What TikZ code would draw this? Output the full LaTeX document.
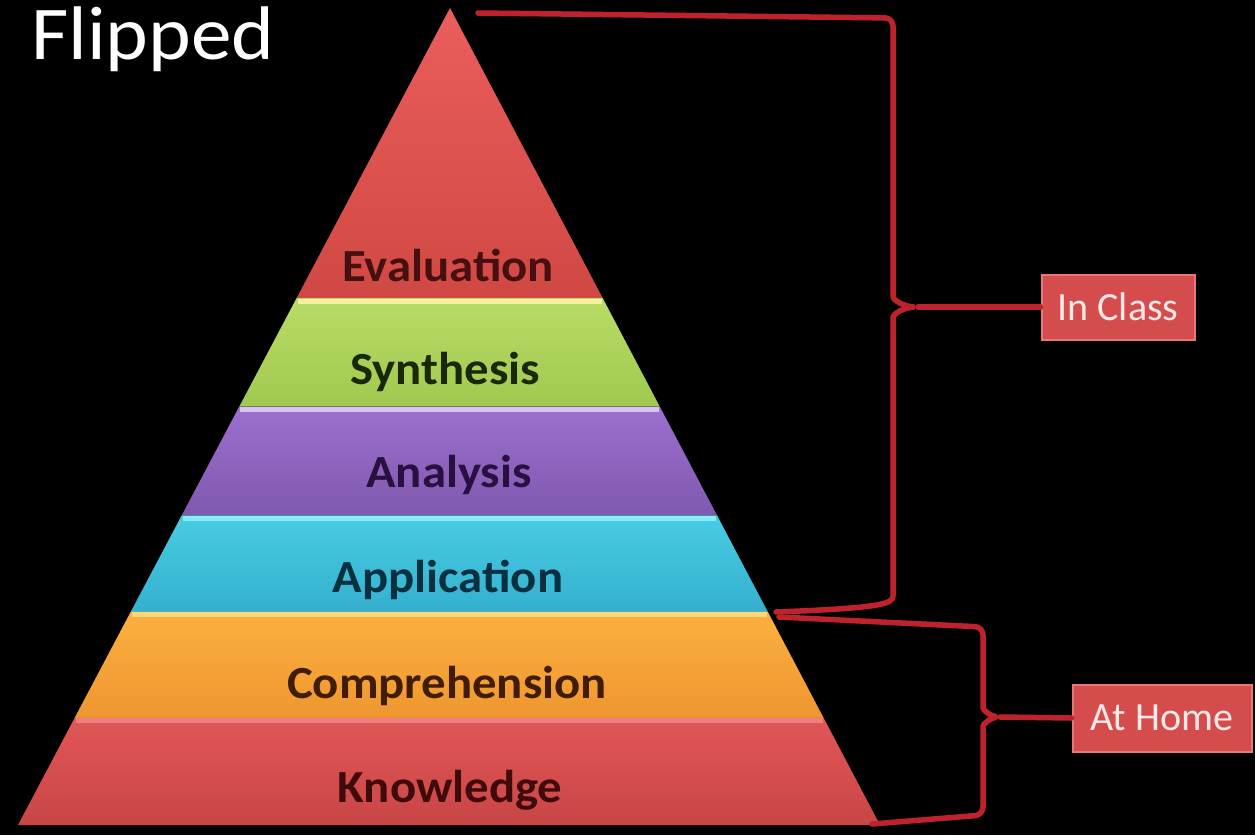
\documentclass[tikz,border=0pt]{standalone}
\usepackage{fontspec}
\setmainfont{Carlito}
\usetikzlibrary{calc}

% --- Colours ---
\definecolor{evaltop}{RGB}{234,94,92}
\definecolor{evalbot}{RGB}{208,72,68}
\definecolor{syntop}{RGB}{186,220,104}
\definecolor{synbot}{RGB}{160,200,78}
\definecolor{anatop}{RGB}{156,112,206}
\definecolor{anabot}{RGB}{128,88,174}
\definecolor{apptop}{RGB}{72,204,228}
\definecolor{appbot}{RGB}{52,176,206}
\definecolor{comptop}{RGB}{252,176,64}
\definecolor{compbot}{RGB}{238,150,48}
\definecolor{knowtop}{RGB}{226,86,86}
\definecolor{knowbot}{RGB}{200,70,70}
% seams and label inks
\definecolor{synseam}{RGB}{244,240,160}
\definecolor{anaseam}{RGB}{214,196,240}
\definecolor{appseam}{RGB}{136,236,248}
\definecolor{compseam}{RGB}{255,214,120}
\definecolor{knowseam}{RGB}{240,128,128}
\definecolor{evalink}{RGB}{70,16,16}
\definecolor{synink}{RGB}{24,40,8}
\definecolor{anaink}{RGB}{40,16,64}
\definecolor{appink}{RGB}{8,48,64}
\definecolor{compink}{RGB}{64,28,0}
\definecolor{knowink}{RGB}{64,10,10}
% braces and tags
\definecolor{bracered}{RGB}{190,34,44}
\definecolor{tagred}{RGB}{212,76,76}
\definecolor{tagedge}{RGB}{232,120,120}
\definecolor{tagink}{RGB}{255,232,232}

\newcommand\layerfont{\fontsize{46}{50}\selectfont\bfseries}

\tikzset{
  layertext/.style={font=\layerfont, inner sep=0pt, xscale=1.06},
  brace/.style={draw=bracered, line width=5.5pt, line join=round, line cap=round},
  tag/.style={draw=tagedge, line width=2pt, fill=tagred, text=tagink,
    font=\fontsize{40}{44}\selectfont, inner sep=0pt},
  seam/.style={line width=5pt}
}

\begin{document}
\begin{tikzpicture}[x=1pt,y=-1pt]

    % --- Background ---
    \fill[black] (0,0) rectangle (1255,835);
    \useasboundingbox (0,0) rectangle (1255,835);

    % --- Coordinates ---
    % apex and the two base corners of the pyramid
    \coordinate (apex) at (450,8);
    \coordinate (bl) at (18,825);
    \coordinate (br) at (880,825);
    % layer boundaries along the two slanted sides
    \coordinate (l1) at ($(apex)!0.355!(bl)$);
    \coordinate (r1) at ($(apex)!0.355!(br)$);
    \coordinate (l2) at ($(apex)!0.488!(bl)$);
    \coordinate (r2) at ($(apex)!0.488!(br)$);
    \coordinate (l3) at ($(apex)!0.621!(bl)$);
    \coordinate (r3) at ($(apex)!0.621!(br)$);
    \coordinate (l4) at ($(apex)!0.739!(bl)$);
    \coordinate (r4) at ($(apex)!0.739!(br)$);
    \coordinate (l5) at ($(apex)!0.869!(bl)$);
    \coordinate (r5) at ($(apex)!0.869!(br)$);

    % --- Layers ---
    \shade[top color=evaltop, bottom color=evalbot] (apex) -- (r1) -- (l1) -- cycle;
    \shade[top color=syntop, bottom color=synbot] (l1) -- (r1) -- (r2) -- (l2) -- cycle;
    \shade[top color=anatop, bottom color=anabot] (l2) -- (r2) -- (r3) -- (l3) -- cycle;
    \shade[top color=apptop, bottom color=appbot] (l3) -- (r3) -- (r4) -- (l4) -- cycle;
    \shade[top color=comptop, bottom color=compbot] (l4) -- (r4) -- (r5) -- (l5) -- cycle;
    \shade[top color=knowtop, bottom color=knowbot] (l5) -- (r5) -- (br) -- (bl) -- cycle;

    % light seams on top of each layer
    \draw[seam, synseam] ($(l1)+(1,3)$) -- ($(r1)+(-1,3)$);
    \draw[seam, anaseam] ($(l2)+(1,3)$) -- ($(r2)+(-1,3)$);
    \draw[seam, appseam] ($(l3)+(1,3)$) -- ($(r3)+(-1,3)$);
    \draw[seam, compseam] ($(l4)+(1,3)$) -- ($(r4)+(-1,3)$);
    \draw[seam, knowseam] ($(l5)+(1,3)$) -- ($(r5)+(-1,3)$);

    % --- Layer labels ---
    \node[layertext, text=evalink] (eval) at (448,265) {Evaluation};
    \node[layertext, text=synink] (synth) at (445,372) {Synthesis};
    \node[layertext, text=anaink] (anal) at (449,475) {Analysis};
    \node[layertext, text=appink] (appl) at (448,580) {Application};
    \node[layertext, text=compink] (compr) at (447,686) {Comprehension};
    \node[layertext, text=knowink] (knowl) at (450,790) {Knowledge};

    % --- Title ---
    \node[anchor=base west, text=white, font=\fontsize{76}{84}\selectfont, inner sep=0pt, xscale=1.07]
      (title) at (31,59) {Flipped};

    % --- Tags ---
    \node[tag, minimum width=153pt, minimum height=65pt] (inclass) at (1118,307) {In Class};
    \node[tag, minimum width=179pt, minimum height=67pt] (athome) at (1162,718) {At Home};

    % --- Braces ---
    % upper brace: from the apex down to the top of Comprehension
    \coordinate (classtop) at (478,13);
    \coordinate (classtip) at (918,307);
    \coordinate (classend) at (776,612);
    \draw[brace, rounded corners=8pt] (classtop) -- (893,18) -- (893,288)
      .. controls (893,301) and (905,306) .. (classtip)
      .. controls (905,308) and (893,313) .. (893,326) -- (893,588)
      .. controls (893,604) and (880,608) .. (classend);
    \draw[brace] (classtip) -- (inclass.west);

    % lower brace: Comprehension and Knowledge
    \coordinate (hometop) at (779,617);
    \coordinate (hometip) at (1000,717);
    \coordinate (homeend) at (872,824);
    \draw[brace, rounded corners=8pt] (hometop) -- (983,627) -- (983,700)
      .. controls (983,710) and (990,715) .. (hometip)
      .. controls (990,719) and (983,724) .. (983,734) -- (983,815) -- (homeend);
    \draw[brace] (hometip) -- (athome.west);

\end{tikzpicture}
\end{document}
